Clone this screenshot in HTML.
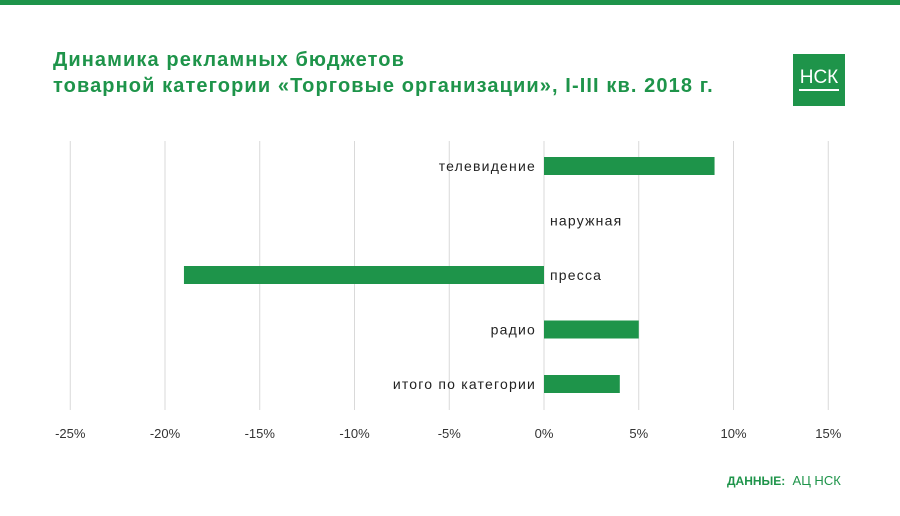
<!DOCTYPE html>
<html><head><meta charset="utf-8"><style>
body{margin:0;width:900px;height:516px;background:#fff;font-family:"Liberation Sans","Noto Sans CJK SC",sans-serif;overflow:hidden;position:relative}
.title{position:absolute;left:53px;top:47px;color:#1e944a;font-weight:bold;font-size:20px;line-height:26px;letter-spacing:1.1px}
</style></head><body>
<div style="position:absolute;left:0;top:0;width:900px;height:5px;background:#1e944a"></div>
<div class="title">Динамика рекламных бюджетов<br>товарной категории «Торговые организации», I-III кв. 2018 г.</div>
<div style="position:absolute;left:793px;top:54px;width:52px;height:52px;background:#1e944a;color:#fff;font-size:19px;text-align:center;line-height:48px">НСК<div style="position:absolute;left:6px;right:6px;top:35px;height:2px;background:#fff"></div></div>
<svg id="chart" width="900" height="516" style="position:absolute;left:0;top:0"></svg>
<div style="position:absolute;left:727px;top:473px;font-size:13px;color:#1e944a"><b style="font-size:12px">ДАННЫЕ:</b>&nbsp; <span>АЦ НСК</span></div>
<script>
const categories=["телевидение","наружная","пресса","радио","итого по категории"];
const values=[9,0,-19,5,4];
const ticks=[-25,-20,-15,-10,-5,0,5,10,15];
const tickLabels=["-25%","-20%","-15%","-10%","-5%","0%","5%","10%","15%"];
const svg=document.getElementById('chart');
const NS='http://www.w3.org/2000/svg';
const x=v=>544+v*18.95;
const y=i=>166+i*54.5;
function mk(t,a){const e=document.createElementNS(NS,t);for(const k in a)e.setAttribute(k,a[k]);svg.appendChild(e);return e;}
ticks.forEach((t,i)=>{
 const l=mk('line',{x1:x(t),x2:x(t),y1:141,y2:410,stroke:'#d9d9d9','stroke-width':1});
 
 
 const tx=mk('text',{x:x(t),y:438,'text-anchor':'middle','font-size':13,fill:'#333'});
 tx.textContent=tickLabels[i];
 
 
});
categories.forEach((c,i)=>{
 const v=values[i];
 if(v!==0){
  const r=mk('rect',{x:Math.min(x(0),x(v)),y:y(i)-9,width:Math.abs(x(v)-x(0)),height:18,fill:'#1e944a'});
  
  
 }
 const left=v>0;
 const t=mk('text',{x:left?x(0)-8:x(0)+6,y:y(i)+5,'text-anchor':left?'end':'start','font-size':14,'letter-spacing':1.2,fill:'#222'});
 t.textContent=c;
 
 
});
</script>
</body></html>
